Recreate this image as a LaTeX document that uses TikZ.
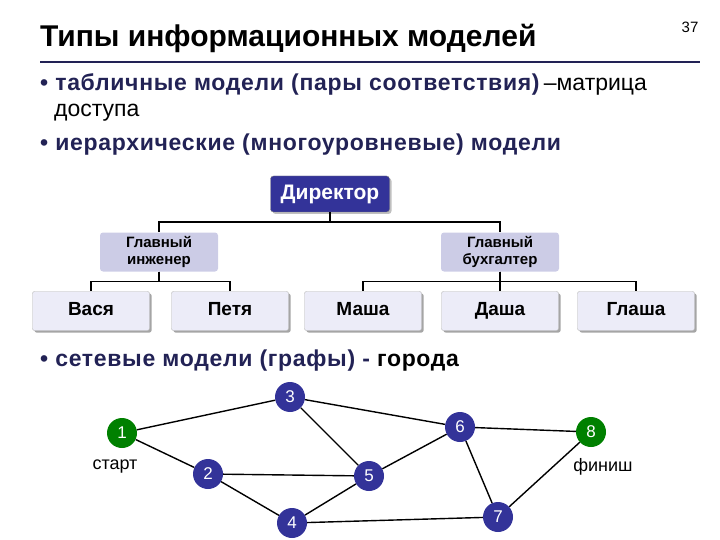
\documentclass[tikz,border=0pt]{standalone}
\usepackage{fontspec}
\setmainfont{Liberation Sans}
\newfontfamily\wide[LetterSpace=3]{Liberation Sans}
\definecolor{navy}{RGB}{51,51,153}
\definecolor{ink}{RGB}{34,34,85}
\definecolor{lav}{RGB}{204,204,230}
\definecolor{pale}{RGB}{236,236,248}
\definecolor{grn}{RGB}{0,128,0}
\tikzset{
  boss/.style={draw=gray,fill=navy,text=white,rounded corners=3pt,minimum width=119pt,minimum height=36pt,font=\bfseries\fontsize{21}{23}\selectfont,drop shadow={shadow xshift=2pt,shadow yshift=-2pt,fill=gray}},
  chief/.style={fill=lav,rounded corners=3pt,minimum width=118pt,minimum height=39pt,align=center,font=\bfseries\fontsize{15}{17}\selectfont},
  worker/.style={draw=gray!60,fill=pale,rounded corners=2pt,minimum width=117pt,minimum height=39pt,text height=13pt,text depth=4pt,font=\bfseries\fontsize{19}{21}\selectfont,drop shadow={shadow xshift=2pt,shadow yshift=-2pt,fill=black!70}},
  city/.style={circle,fill=navy,text=white,minimum size=30pt,inner sep=0pt,font=\fontsize{17}{17}\selectfont},
  endcity/.style={city,fill=grn},
  link/.style={line width=1.4pt},
  txt/.style={anchor=west,inner sep=0pt,text=ink,font=\wide\bfseries\fontsize{23}{26}\selectfont},
  plain/.style={inner sep=0pt,font=\fontsize{23}{26}\selectfont}
}
\usetikzlibrary{shadows}
\begin{document}
\begin{tikzpicture}[x=1pt,y=-1pt]
  \useasboundingbox (0,0) rectangle (720,540);
  \node[anchor=west,inner sep=0pt,font=\bfseries\fontsize{30}{33}\selectfont] (title) at (40,38) {Типы информационных моделей};
  \node[font=\fontsize{15}{17}\selectfont] (pg) at (690,27) {37};
  \draw[ink,line width=1.5pt] (40,62) -- (700,62);
  \node[txt] (b1) at (40,84) {• табличные модели (пары соответствия)};
  \node[plain,anchor=base west] (b1m) at (b1.base east) {\,–матрица};
  \node[plain,anchor=west] (b1a) at (54,113) {доступа};
  \node[txt] (b2) at (40,145) {• иерархические (многоуровневые) модели};
  \node[txt] (b3) at (40,361) {• сетевые модели (графы) - \textcolor{black}{города}};
  % tree
  \node[boss] (dir) at (330,194) {Директор};
  \node[chief] (eng) at (159,252) {Главный\\инженер};
  \node[chief] (acc) at (500,252) {Главный\\бухгалтер};
  \node[worker] (vasya) at (91,311) {Вася};
  \node[worker] (petya) at (230,311) {Петя};
  \node[worker] (masha) at (363,311) {Маша};
  \node[worker] (dasha) at (500,311) {Даша};
  \node[worker] (glasha) at (636,311) {Глаша};
  \draw[link] (dir.south) -- ++(0,10) -| (eng.north);
  \draw[link] (dir.south) -- ++(0,10) -| (acc.north);
  \draw[link] (eng.south) -- ++(0,10) -| (vasya.north);
  \draw[link] (eng.south) -- ++(0,10) -| (petya.north);
  \draw[link] (acc.south) -- ++(0,10) -| (masha.north);
  \draw[link] (acc.south) -- (dasha.north);
  \draw[link] (acc.south) -- ++(0,10) -| (glasha.north);
  % graph
  \node[endcity] (c1) at (122,433) {1};
  \node[city] (c2) at (208,474) {2};
  \node[city] (c3) at (290,397) {3};
  \node[city] (c4) at (292,523) {4};
  \node[city] (c5) at (369,476) {5};
  \node[city] (c6) at (460,427) {6};
  \node[city] (c7) at (498,517) {7};
  \node[endcity] (c8) at (591,432) {8};
  \node[font=\fontsize{18}{20}\selectfont] (start) at (115,467) {старт};
  \node[font=\fontsize{18}{20}\selectfont] (finish) at (603,467) {финиш};
  \foreach \a/\b in {1/3,1/2,3/6,3/5,6/8,6/5,6/7,2/5,2/4,4/5,4/7,7/8}
    \draw[link] (c\a) -- (c\b);
\end{tikzpicture}
\end{document}
